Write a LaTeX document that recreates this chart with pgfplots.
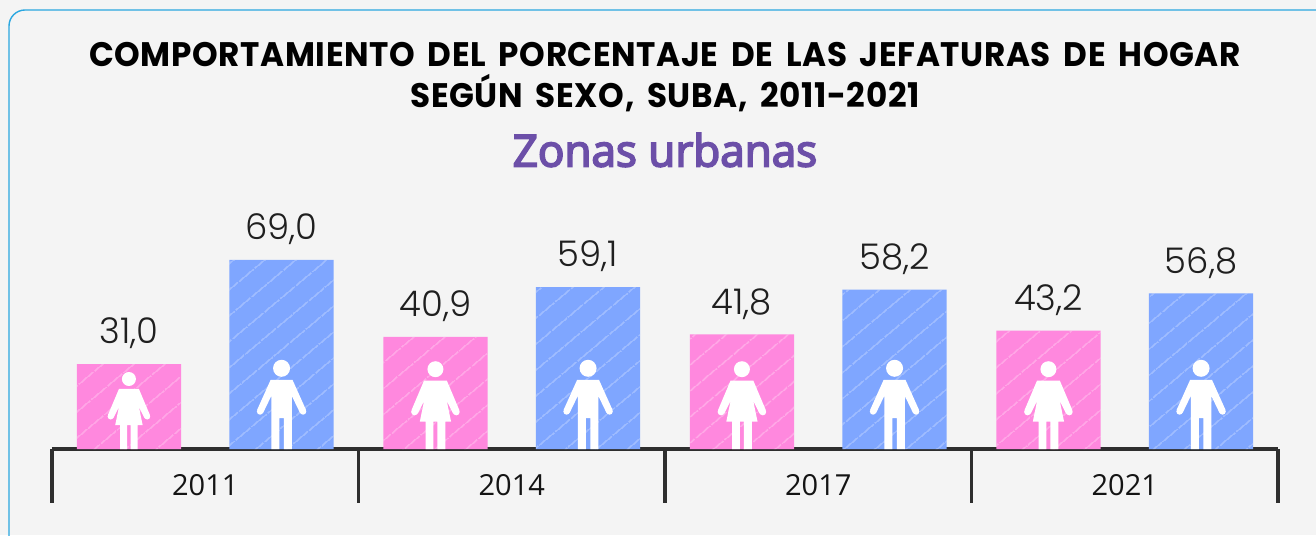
\documentclass[border=0pt]{standalone}
\usepackage{fontspec}
\setmainfont{Open Sans}
\newfontfamily\titlefont[FakeStretch=0.96,LetterSpace=1.8,WordSpace=1.7]{Poppins}
\newfontfamily\subfont[FakeBold=4]{Open Sans}
\newfontfamily\valfont{Poppins Light}
\usepackage{pgfplots}
\pgfplotsset{compat=1.18}
\usetikzlibrary{patterns.meta}

\definecolor{cardbg}{HTML}{F4F4F4}
\definecolor{cardedge}{HTML}{2AA7E0}
\definecolor{pinkbar}{HTML}{FF88DE}
\definecolor{bluebar}{HTML}{7FA6FF}
\definecolor{axisdark}{HTML}{2E2E2E}
\definecolor{subt}{HTML}{6C4FA8}

% 1 px of the reference = 0.5pt
\newcommand{\PX}[2]{\pgfpoint{0.5pt*(#1)}{0.5pt*(#2)}}

% icons, drawn from the feet up
\pgfdeclareplotmark{woman}{%
  \pgfpathcircle{\PX{0}{70}}{3.5pt}%
  \pgfpathmoveto{\PX{-8.7}{0}}\pgfpathlineto{\PX{-1.7}{0}}\pgfpathlineto{\PX{-1.7}{24}}%
  \pgfpathlineto{\PX{1.7}{24}}\pgfpathlineto{\PX{1.7}{0}}\pgfpathlineto{\PX{8.7}{0}}%
  \pgfpathlineto{\PX{8.7}{24}}\pgfpathlineto{\PX{13.7}{24}}\pgfpathlineto{\PX{10}{42}}%
  \pgfpathlineto{\PX{15.5}{31}}\pgfpathlineto{\PX{21}{34}}\pgfpathlineto{\PX{10}{60}}%
  \pgfpathlineto{\PX{-10}{60}}\pgfpathlineto{\PX{-21}{34}}\pgfpathlineto{\PX{-15.5}{31}}%
  \pgfpathlineto{\PX{-10}{42}}\pgfpathlineto{\PX{-13.7}{24}}\pgfpathlineto{\PX{-8.7}{24}}%
  \pgfpathclose
  \pgfpathcircle{\PX{-18.3}{32.5}}{1.5pt}%
  \pgfpathcircle{\PX{18.3}{32.5}}{1.5pt}%
  \pgfusepathqfill}
\pgfdeclareplotmark{man}{%
  \pgfpathcircle{\PX{0}{80.7}}{4.25pt}%
  \pgfpathmoveto{\PX{-10.3}{0}}\pgfpathlineto{\PX{-2.3}{0}}\pgfpathlineto{\PX{-2.3}{31}}%
  \pgfpathlineto{\PX{2.3}{31}}\pgfpathlineto{\PX{2.3}{0}}\pgfpathlineto{\PX{10.3}{0}}%
  \pgfpathlineto{\PX{10.3}{53}}\pgfpathlineto{\PX{18.5}{36}}\pgfpathlineto{\PX{24.5}{39}}%
  \pgfpathlineto{\PX{11}{69}}\pgfpathlineto{\PX{-11}{69}}\pgfpathlineto{\PX{-24.5}{39}}%
  \pgfpathlineto{\PX{-18.5}{36}}\pgfpathlineto{\PX{-10.3}{53}}%
  \pgfpathclose
  \pgfpathcircle{\PX{-21.5}{37.5}}{1.6pt}%
  \pgfpathcircle{\PX{21.5}{37.5}}{1.6pt}%
  \pgfusepathqfill}

% bars sit at their own x, so the value labels follow them
\pgfplotstableread{
x      val
-0.249 31.0
0.751  40.9
1.751  41.8
2.751  43.2
}\mujeres
\pgfplotstableread{
x      val
0.249  69.0
1.249  59.1
2.249  58.2
3.249  56.8
}\hombres

\begin{document}
\begin{tikzpicture}
  % page is 1316x535 px, origin at the left end of the axis line
  \path[use as bounding box, fill=cardbg] (-26pt,-43pt) rectangle (632pt,224.5pt);
  \draw[cardedge, line width=0.7pt, rounded corners=8pt]
    (-21.5pt,-70pt) rectangle (660pt,219.5pt);

  \node[font=\titlefont\bfseries\fontsize{17}{19}\selectfont, text=black]
    at (306.5pt,197pt) {COMPORTAMIENTO DEL PORCENTAJE DE LAS JEFATURAS DE HOGAR};
  \node[font=\titlefont\bfseries\fontsize{17}{19}\selectfont, text=black]
    at (306.5pt,178pt) {SEGÚN SEXO, SUBA, 2011-2021};
  \node[font=\subfont\fontsize{22}{25}\selectfont, text=subt]
    at (306.5pt,149.5pt) {Zonas urbanas};

  \begin{axis}[
      at={(0pt,0pt)}, anchor=south west,
      scale only axis,
      width=613pt, height=109.6pt,
      xmin=-0.5, xmax=3.5,
      ymin=0, ymax=80,
      clip=false,
      axis y line=none,
      axis x line=bottom,
      axis line style={-, axisdark, line width=1.6pt},
      xtick={0,1,2,3},
      xticklabels={2011,2014,2017,2021},
      major tick length=0pt,
      xticklabel style={font=\fontsize{14.5}{17}\selectfont, text=black!92, yshift=-9pt},
      extra x ticks={-0.5,0.5,1.5,2.5,3.5},
      extra x tick labels={},
      extra x tick style={
        major tick length=27pt, tick align=outside,
        tick style={axisdark, line width=1.6pt}},
      nodes near coords style={font=\valfont\fontsize{17.7}{20}\selectfont, text=black!88,
        /pgf/number format/assume math mode=true,
        /pgf/number format/fixed, /pgf/number format/fixed zerofill,
        /pgf/number format/precision=1, /pgf/number format/use comma},
    ]
    \addplot[ybar, bar width=0.34, bar shift=0, draw=none, fill=pinkbar,
      nodes near coords, nodes near coords align={above},
      every node near coord/.append style={yshift=4pt},
      postaction={pattern={Lines[angle=40,distance=10.5pt,line width=0.35pt]},
        pattern color=white!75!pinkbar}]
      table[x=x,y=val] {\mujeres};
    \addplot[ybar, bar width=0.34, bar shift=0, draw=none, fill=bluebar,
      nodes near coords, nodes near coords align={above},
      every node near coord/.append style={yshift=4pt},
      postaction={pattern={Lines[angle=40,distance=10.5pt,line width=0.35pt]},
        pattern color=white!75!bluebar}]
      table[x=x,y=val] {\hombres};

    % icons stand on the axis, inside each bar
    \addplot[only marks, mark=woman, mark options={fill=white, draw=none}]
      coordinates {(-0.249,0)};
    \addplot[only marks, mark=woman, mark options={fill=white, draw=none, scale=1.14}]
      coordinates {(0.751,0) (1.751,0) (2.751,0)};
    \addplot[only marks, mark=man, mark options={fill=white, draw=none}]
      coordinates {(0.249,0) (1.249,0) (2.249,0) (3.249,0)};
  \end{axis}
\end{tikzpicture}
\end{document}
